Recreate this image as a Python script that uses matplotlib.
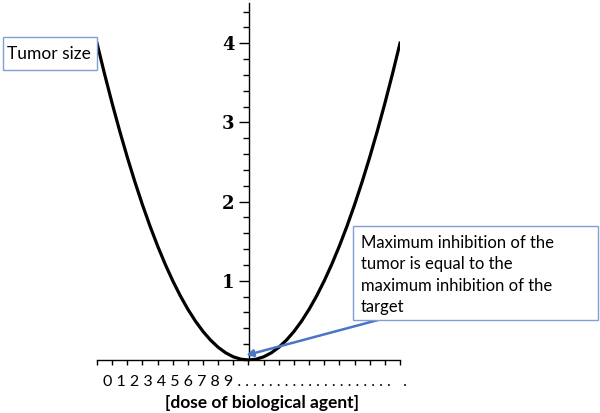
import numpy as np
import matplotlib
matplotlib.use("Agg")
import matplotlib.pyplot as plt
from matplotlib.ticker import MultipleLocator

# Curve points (tumor size vs. dose, vertex at 0)
dose = [-2.0, -1.9, -1.8, -1.7, -1.6, -1.5, -1.4, -1.3, -1.2, -1.1, -1.0,
        -0.9, -0.8, -0.7, -0.6, -0.5, -0.4, -0.3, -0.2, -0.1, 0.0,
        0.1, 0.2, 0.3, 0.4, 0.5, 0.6, 0.7, 0.8, 0.9, 1.0,
        1.1, 1.2, 1.3, 1.4, 1.5, 1.6, 1.7, 1.8, 1.9, 2.0]
tumor = [4.0, 3.61, 3.24, 2.89, 2.56, 2.25, 1.96, 1.69, 1.44, 1.21, 1.0,
         0.81, 0.64, 0.49, 0.36, 0.25, 0.16, 0.09, 0.04, 0.01, 0.0,
         0.01, 0.04, 0.09, 0.16, 0.25, 0.36, 0.49, 0.64, 0.81, 1.0,
         1.21, 1.44, 1.69, 1.96, 2.25, 2.56, 2.89, 3.24, 3.61, 4.0]
y_ticks = [1, 2, 3, 4]
dose_labels = "0 1 2 3 4 5 6 7 8 9 " + ". " * 20 + "  ."
x_title = "[dose of biological agent]"
y_title = "Tumor size"
note = ("Maximum inhibition of the\ntumor is equal to the\n"
        "maximum inhibition of the\ntarget")

W, H = 600, 413
fig = plt.figure(figsize=(6, 4.13), dpi=100)
# axes spans x px 97..400, y px 3..360 (from top)
ax = fig.add_axes([97 / W, (H - 360) / H, (400 - 97) / W, (360 - 3) / H])
ax.set_xlim(-2, 2)
ax.set_ylim(0, 357 / 79.2)

ax.plot(dose, tumor, color="black", lw=2.3, solid_joinstyle="round")

for s in ["top", "right"]:
    ax.spines[s].set_visible(False)
ax.spines["left"].set_position(("data", 0))
ax.spines["bottom"].set_position(("data", 0))
ax.spines["left"].set_linewidth(1.0)
ax.spines["bottom"].set_linewidth(1.0)

ax.set_yticks(y_ticks)
ax.yaxis.set_minor_locator(MultipleLocator(0.2))
ax.tick_params(axis="y", which="major", length=7, width=1, direction="out", pad=3)
ax.tick_params(axis="y", which="minor", length=4, width=1, direction="out")
for lab in ax.get_yticklabels():
    lab.set_fontfamily("DejaVu Serif")
    lab.set_fontweight("bold")
    lab.set_fontsize(13)

ax.set_xticks(np.arange(-2, 2.01, 0.2))
ax.set_xticklabels([])
ax.tick_params(axis="x", which="major", length=3.5, width=1, direction="out")

font = "Lato"
fig.text(103 / W, 1 - 382 / H, dose_labels, fontsize=11.5, family=font,
         ha="left", va="center")
fig.text(262 / W, 1 - 403 / H, x_title, fontsize=12.5, family=font,
         fontweight="bold", ha="center", va="center")

box_col = "#7f9fd6"
fig.patches.append(plt.Rectangle((3 / W, 1 - 70 / H), 94 / W, 33 / H,
                                 transform=fig.transFigure, fc="white",
                                 ec=box_col, lw=1))
fig.text(49 / W, 1 - 54 / H, y_title, fontsize=12.5, family=font,
         ha="center", va="center")

fig.patches.append(plt.Rectangle((353 / W, 1 - 320 / H), 245 / W, 94 / H,
                                 transform=fig.transFigure, fc="white",
                                 ec=box_col, lw=1))
fig.text(361 / W, 1 - 275 / H, note, fontsize=12, family=font,
         ha="left", va="center", linespacing=1.42)

ax.annotate("", xy=(-0.03, 0.06), xycoords="data",
            xytext=(378 / W, 1 - 320 / H), textcoords="figure fraction",
            arrowprops=dict(arrowstyle="-|>", color="#4a74c8", lw=1.8,
                            mutation_scale=10, shrinkA=0, shrinkB=0))

fig.savefig("out.png", dpi=100)
